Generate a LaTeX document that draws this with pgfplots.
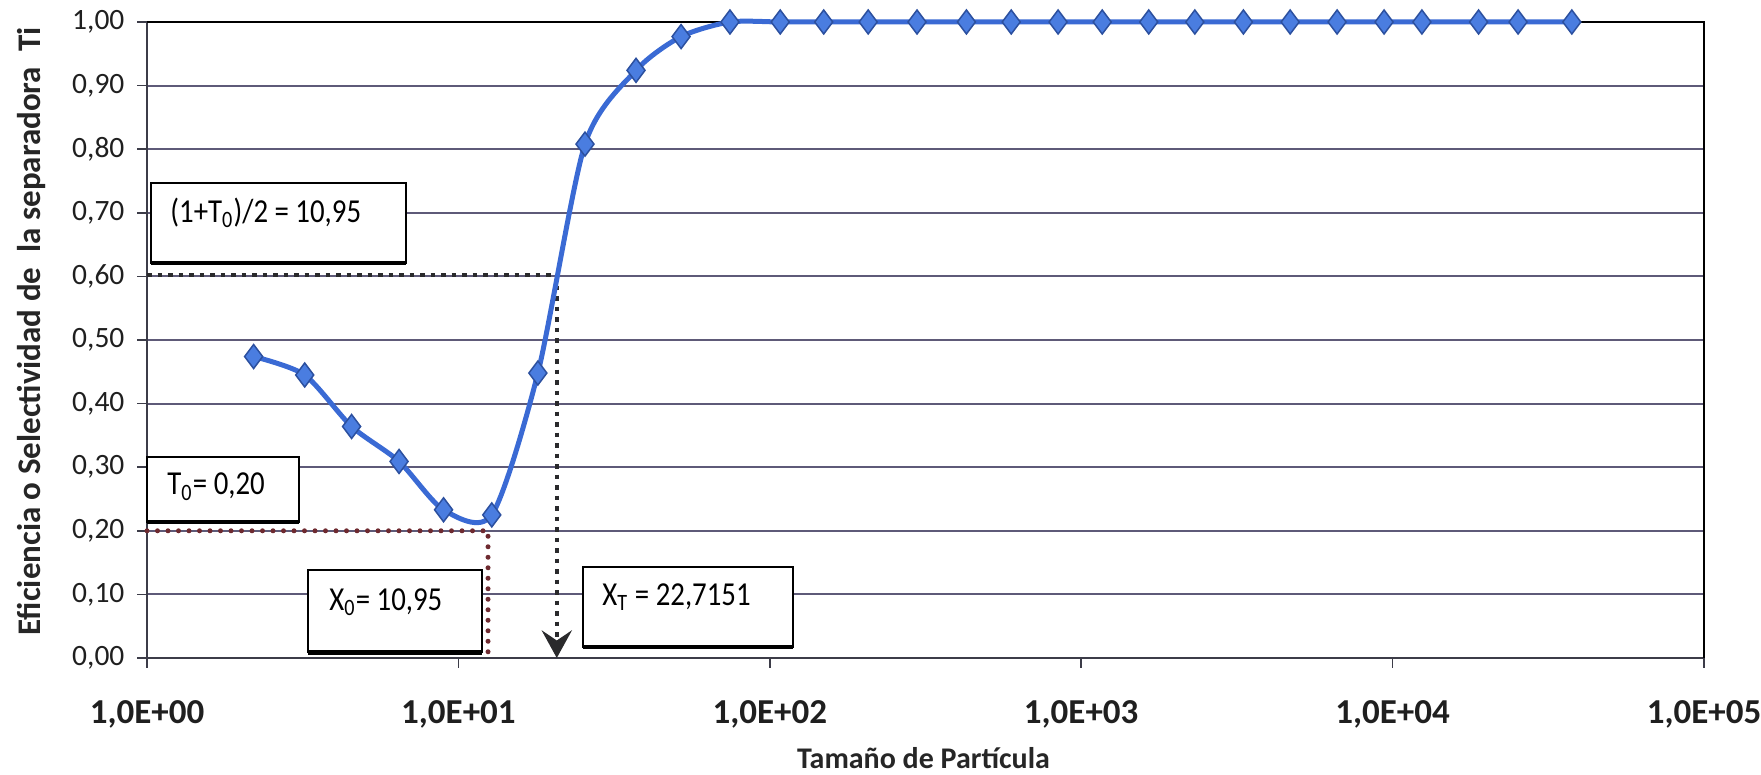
\documentclass[border=0pt]{standalone}
\usepackage{fontspec}
\setmainfont{Carlito}
\newfontfamily\condfont{Carlito}[FakeStretch=0.86]
\usepackage{pgfplots}
\usepackage{pgfplotstable}
\pgfplotsset{compat=1.18}
\usetikzlibrary{arrows.meta}
\definecolor{serie}{HTML}{3A6AD4}
\definecolor{mk}{HTML}{4A7DE0}
\definecolor{gridc}{HTML}{5E5A78}
\definecolor{axc}{HTML}{3C3C48}
\definecolor{maroonc}{HTML}{6E2A30}
\definecolor{dotc}{HTML}{2A2A2C}

\pgfplotstableread{
x y
2.20 0.474
3.21 0.445
4.54 0.364
6.45 0.309
8.96 0.233
12.8 0.225
18.0 0.448
25.5 0.808
37.2 0.924
51.9 0.977
74.5 1.000
108 1.000
149 1.000
207 1.000
297 1.000
428 1.000
596 1.000
843 1.000
1168 1.000
1648 1.000
2317 1.000
3318 1.000
4688 1.000
6635 1.000
9390 1.000
12420 1.000
18890 1.000
25290 1.000
37640 1.000
}\datatab

\begin{document}
\begin{tikzpicture}
\useasboundingbox (0,0) rectangle (704.4pt,310pt);
\begin{axis}[
  at={(58.8pt,46.8pt)}, anchor=south west,
  scale only axis, width=622.8pt, height=254.4pt,
  xmode=log, log basis x=10,
  xmin=1, xmax=100000, ymin=0, ymax=1,
  xtick={1,10,100,1000,10000,100000},
  xticklabels={{1,0E+00},{1,0E+01},{1,0E+02},{1,0E+03},{1,0E+04},{1,0E+05}},
  xminorticks=false,
  xtick pos=bottom, ytick pos=left,
  ytick={0,0.1,0.2,0.3,0.4,0.5,0.6,0.7,0.8,0.9,1},
  yticklabels={{0,00},{0,10},{0,20},{0,30},{0,40},{0,50},{0,60},{0,70},{0,80},{0,90},{1,00}},
  ymajorgrids,
  major grid style={draw=gridc, line width=0.75pt},
  axis line style={draw=axc, line width=0.8pt},
  tick align=outside, major tick length=4pt,
  tick style={draw=axc, line width=0.7pt},
  yticklabel style={font=\fontsize{11.8}{13}\selectfont, text=black!88, xshift=-1.5pt},
  xticklabel style={font=\bfseries\fontsize{14}{16}\selectfont, text=black!88, yshift=-9.5pt},
  clip=false,
]
% plot frame top/right
\draw[black, line width=1pt] (rel axis cs:0,1) -- (rel axis cs:1,1) -- (rel axis cs:1,0);

% annotation boxes
\draw[fill=white, draw=black, line width=0.9pt] (axis cs:1.03,0.621) rectangle (axis cs:6.79,0.747);
\draw[black, line width=1.8pt] (axis cs:1.03,0.621) -- (axis cs:6.79,0.621);
\node[anchor=west, inner sep=0pt, font=\condfont\fontsize{13.4}{15}\selectfont] at (axis cs:1.185,0.70) {(1+T\textsubscript{0})/2 = 10,95};

\draw[fill=white, draw=black, line width=0.9pt] (axis cs:1.0,0.214) rectangle (axis cs:3.08,0.316);
\draw[black, line width=1.8pt] (axis cs:1.0,0.214) -- (axis cs:3.08,0.214);
\node[anchor=west, inner sep=0pt, font=\condfont\fontsize{13.4}{15}\selectfont] at (axis cs:1.159,0.269) {T\textsubscript{0}= 0,20};

\draw[fill=white, draw=black, line width=0.9pt] (axis cs:3.29,0.009) rectangle (axis cs:11.9,0.138);
\draw[black, line width=1.8pt] (axis cs:3.29,0.009) -- (axis cs:11.9,0.009);
\node[anchor=west, inner sep=0pt, font=\condfont\fontsize{13.4}{15}\selectfont] at (axis cs:3.84,0.088) {X\textsubscript{0}= 10,95};

\draw[fill=white, draw=black, line width=0.9pt] (axis cs:25.1,0.017) rectangle (axis cs:118.7,0.143);
\draw[black, line width=1.8pt] (axis cs:25.1,0.017) -- (axis cs:118.7,0.017);
\node[anchor=west, inner sep=0pt, font=\condfont\fontsize{13.4}{15}\selectfont] at (axis cs:28.9,0.096) {X\textsubscript{T} = 22,7151};

% guide lines
\addplot[dotc, line width=1.8pt, dash pattern=on 1.8pt off 2.4pt, forget plot] coordinates {(1,0.602) (20.7,0.602)};
\addplot[dotc, line width=1.8pt, dash pattern=on 1.8pt off 2.4pt, -{Stealth[length=11pt,width=12pt,inset=4pt]}, forget plot] coordinates {(20.7,0.602) (20.7,0)};
\addplot[maroonc, line width=2pt, dash pattern=on 0pt off 4.2pt, line cap=round, forget plot] coordinates {(1,0.2) (12.45,0.2) (12.45,0.006)};

% data series
\addplot[serie, line width=2pt, smooth, tension=0.45, mark=diamond*, mark size=4.8pt,
  mark options={fill=mk, draw=serie!75!black, line width=0.6pt, solid}] table {\datatab};
\end{axis}
\node[rotate=90, font=\bfseries\fontsize{13.2}{15}\selectfont, text=black!85] at (12.4pt,177.4pt) {Eficiencia o Selectividad de\ \ la separadora\ \ Ti};
\node[anchor=base, inner sep=0pt, font=\bfseries\fontsize{12}{14}\selectfont, text=black!85] at (369.4pt,2.6pt) {Tamaño de Partícula};
\end{tikzpicture}
\end{document}
